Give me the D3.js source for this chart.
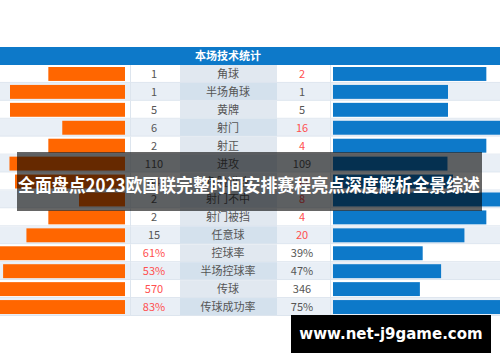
<!DOCTYPE html>
<html>
<head>
<meta charset="utf-8">
<script src="https://cdn.jsdelivr.net/npm/d3@7"></script>
<style>
  body { margin: 0; background: #fff; }
  svg { display: block; font-family: "Noto Sans CJK SC", "Noto Sans", sans-serif; }
</style>
</head>
<body>
<div id="chart"></div>
<script>
// stats as shown in the table (the 7th row is hidden behind the banner, estimated)
const labels = ["角球", "半场角球", "黄牌", "射门", "射正", "进攻", "危险进攻", "射门不中", "射门被挡", "任意球", "控球率", "半场控球率", "传球", "传球成功率"];
const homeVals = ["1", "1", "5", "6", "2", "110", "44", "2", "2", "15", "61%", "53%", "570", "83%"];
const awayVals = ["2", "1", "5", "16", "4", "109", "48", "8", "4", "20", "39%", "47%", "346", "75%"];
// which side's number is printed in red
const homeRed = [0, 0, 0, 0, 0, 0, 0, 0, 0, 0, 1, 1, 1, 1];
const awayRed = [1, 0, 0, 1, 1, 0, 1, 1, 1, 1, 0, 0, 0, 0];
const title = "本场技术统计";
const banner = "全面盘点2023欧国联完整时间安排赛程亮点深度解析全景综述";
const watermark = "www.net-j9game.com";

const width = 500, height = 362;
const orange = "#ff6600", blue = "#0d79c9", red = "#ff5050", grey = "#555";

const svg = d3.select("#chart").append("svg")
    .attr("width", width)
    .attr("height", height);

const y = d3.scaleBand()
    .domain(labels)
    .range([65, 316]);

// bar length is the share of the pair (or the plain percentage)
const share = d3.scaleLinear().domain([0, 1]).range([0, 230]);
const num = s => parseFloat(s);
const isPct = s => s.endsWith("%");
const shareOf = (a, b) => isPct(a) ? num(a) / 100 : num(a) / (num(a) + num(b));

const rows = labels.map((label, i) => ({
    label,
    home: homeVals[i],
    away: awayVals[i],
    i
}));

// header
svg.append("rect")
    .attr("x", 0).attr("y", 47)
    .attr("width", width).attr("height", 18)
    .attr("fill", blue);
svg.append("text")
    .attr("x", 228).attr("y", 60)
    .attr("text-anchor", "middle")
    .attr("fill", "#fff")
    .attr("font-size", 11)
    .attr("font-weight", "bold")
    .text(title);

const row = svg.selectAll("g.row")
    .data(rows)
    .enter().append("g")
    .attr("class", "row")
    .attr("transform", d => `translate(0, ${y(d.label)})`);

const bh = y.bandwidth();

row.append("rect")
    .attr("width", width).attr("height", bh)
    .attr("fill", d => d.i % 2 ? "#e9eff6" : "#fff");
row.append("rect")
    .attr("x", 180).attr("width", 97).attr("height", bh)
    .attr("fill", d => d.i % 2 ? "#d4e1ed" : "#e1e8f0");
row.append("line")
    .attr("x1", 0).attr("x2", width)
    .attr("y1", bh - 0.5).attr("y2", bh - 0.5)
    .attr("stroke", "#dde5ee");
[130, 330].forEach(x => {
    row.append("line")
        .attr("x1", x + 0.5).attr("x2", x + 0.5)
        .attr("y1", 0).attr("y2", bh)
        .attr("stroke", "#dde5ee");
});

// left (home) bars grow to the left from x=125
row.append("rect")
    .attr("x", d => 125 - share(shareOf(d.home, d.away)))
    .attr("y", 2)
    .attr("width", d => share(shareOf(d.home, d.away)))
    .attr("height", bh - 4)
    .attr("fill", orange);

// right (away) bars start at x=333
row.append("rect")
    .attr("x", 333)
    .attr("y", 2)
    .attr("width", d => share(shareOf(d.away, d.home)))
    .attr("height", bh - 4)
    .attr("fill", blue);

row.append("text")
    .attr("x", 154).attr("y", bh / 2 + 4)
    .attr("text-anchor", "middle")
    .attr("font-size", 11)
    .attr("fill", d => homeRed[d.i] ? red : grey)
    .text(d => d.home);

row.append("text")
    .attr("x", 228).attr("y", bh / 2 + 4)
    .attr("text-anchor", "middle")
    .attr("font-size", 11)
    .attr("fill", grey)
    .text(d => d.label);

row.append("text")
    .attr("x", 302).attr("y", bh / 2 + 4)
    .attr("text-anchor", "middle")
    .attr("font-size", 11)
    .attr("fill", d => awayRed[d.i] ? red : grey)
    .text(d => d.away);

// banner across the middle
svg.append("rect")
    .attr("x", 17).attr("y", 152)
    .attr("width", 465).attr("height", 59)
    .attr("fill", "rgba(0,0,0,0.6)");
svg.append("text")
    .attr("x", 249).attr("y", 192)
    .attr("text-anchor", "middle")
    .attr("fill", "#fff")
    .attr("font-size", 18)
    .attr("font-weight", "bold")
    .attr("textLength", 462)
    .attr("lengthAdjust", "spacingAndGlyphs")
    .text(banner);

// watermark
svg.append("rect")
    .attr("x", 291).attr("y", 315)
    .attr("width", 200).attr("height", 38)
    .attr("fill", "#000");
svg.append("text")
    .attr("x", 391).attr("y", 339)
    .attr("text-anchor", "middle")
    .attr("fill", "#fff")
    .attr("font-size", 15)
    .attr("font-weight", "bold")
    .attr("font-family", "\"DejaVu Sans\", sans-serif")
    .text(watermark);
</script>
</body>
</html>
